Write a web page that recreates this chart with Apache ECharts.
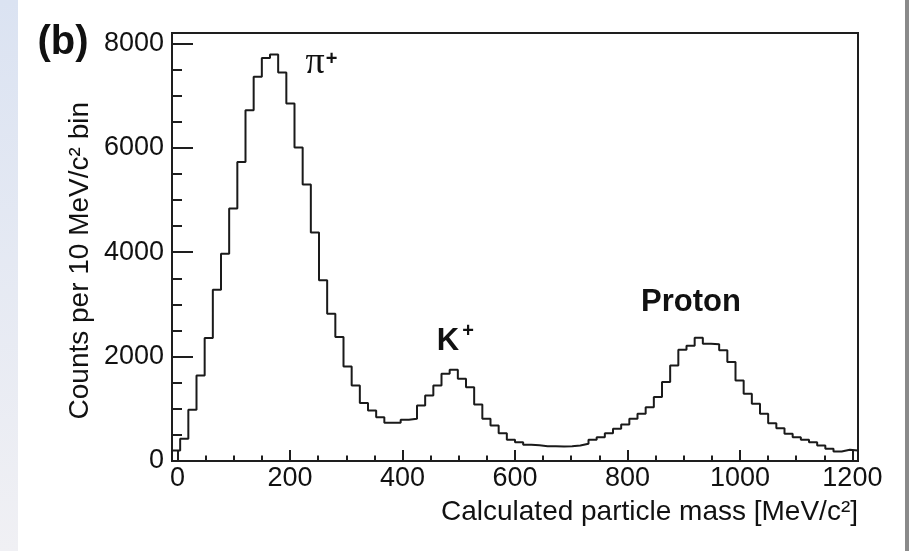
<!DOCTYPE html>
<html><head><meta charset="utf-8">
<script src="https://cdn.jsdelivr.net/npm/echarts@6/dist/echarts.min.js"></script>
<style>
html,body{margin:0;padding:0;background:#fff;}
#wrap{position:relative;width:909px;height:551px;overflow:hidden;background:#fff;}
#lstrip{position:absolute;left:0;top:0;width:18px;height:551px;background:linear-gradient(to bottom,#dbe3f2,#f0f0f4);}
#rstrip{position:absolute;right:0;top:0;width:4px;height:551px;background:#8a8a8a;}
#chart{position:absolute;left:0;top:0;width:909px;height:551px;}
</style></head>
<body><div id="wrap"><div id="lstrip"></div><div id="rstrip"></div><div id="chart"></div></div>
<script>
// Histogram: bins from binStart, width binWidth (MeV/c^2)
const binStart = -10;
const binWidth = 1220 / 84;
const counts = [
  200, 426, 982, 1640, 2355, 3283, 3973, 4836, 5730, 6721,
  7360, 7720, 7790, 7444, 6850, 6006, 5296, 4376, 3461, 2823,
  2374, 1810, 1448, 1110, 968, 840, 735, 735, 790, 809,
  1064, 1256, 1448, 1672, 1749, 1576, 1415, 1083, 809, 681,
  533, 407, 360, 311, 300, 284, 284, 280, 284, 297,
  330, 407, 457, 533, 617, 700, 809, 905, 1032, 1224,
  1512, 1832, 2133, 2210, 2363, 2248, 2235, 2120, 1896, 1544,
  1289, 1097, 905, 725, 629, 521, 457, 407, 361, 297,
  234, 182, 215, 200
];
const xMajorTicks = [0, 200, 400, 600, 800, 1000, 1200];
const xMinorTicks = [50, 100, 150, 250, 300, 350, 450, 500, 550, 650, 700, 750, 850, 900, 950, 1050, 1100, 1150];
const yMajorTicks = [0, 2000, 4000, 6000, 8000];
const yMinorTicks = [500, 1000, 1500, 2500, 3000, 3500, 4500, 5000, 5500, 6500, 7000, 7500];

const pts = [[binStart, 0]];
counts.forEach((c, i) => pts.push([binStart + i * binWidth, c]));
pts.push([binStart + counts.length * binWidth, counts[counts.length - 1]]);
pts.push([binStart + counts.length * binWidth, 0]);

const axisColor = '#1e1e1e';
const txt = '#111';
const ff = '"Liberation Sans", Arial, Helvetica, sans-serif';
const plain = v => String(v);

const chart = echarts.init(document.getElementById('chart'), null, {renderer: 'canvas'});
chart.setOption({
  animation: false,
  grid: {left: 172, right: 51, top: 33, bottom: 90, show: true, borderColor: axisColor, borderWidth: 2,
         backgroundColor: 'transparent', outerBoundsMode: 'none', containLabel: false},
  xAxis: [
    {type: 'value', min: -10, max: 1210, position: 'bottom',
     axisLine: {show: true, onZero: false, lineStyle: {color: axisColor, width: 2}},
     axisTick: {show: true, inside: true, length: 11, customValues: xMajorTicks, lineStyle: {color: axisColor, width: 2}},
     axisLabel: {show: true, customValues: xMajorTicks, formatter: plain, margin: 4, color: txt, fontSize: 27, fontFamily: ff},
     splitLine: {show: false}},
    {type: 'value', min: -10, max: 1210, position: 'bottom',
     axisLine: {show: false, onZero: false},
     axisTick: {show: true, inside: true, length: 5.5, customValues: xMinorTicks, lineStyle: {color: axisColor, width: 2}},
     axisLabel: {show: false},
     splitLine: {show: false}}
  ],
  yAxis: [
    {type: 'value', min: 0, max: 8200, position: 'left',
     axisLine: {show: true, onZero: false, lineStyle: {color: axisColor, width: 2}},
     axisTick: {show: true, inside: true, length: 21, customValues: yMajorTicks, lineStyle: {color: axisColor, width: 2}},
     axisLabel: {show: true, customValues: yMajorTicks, formatter: plain, margin: 8, color: txt, fontSize: 27, fontFamily: ff},
     splitLine: {show: false}},
    {type: 'value', min: 0, max: 8200, position: 'left',
     axisLine: {show: false, onZero: false},
     axisTick: {show: true, inside: true, length: 10, customValues: yMinorTicks, lineStyle: {color: axisColor, width: 2}},
     axisLabel: {show: false},
     splitLine: {show: false}}
  ],
  series: [{
    type: 'line', xAxisIndex: 0, yAxisIndex: 0, data: pts, step: 'end',
    showSymbol: false, symbol: 'none', z: 3,
    lineStyle: {color: '#1a1a1a', width: 2}
  }],
  graphic: [
    {type: 'text', x: 63, y: 43, style: {text: '(b)', font: 'bold 40px ' + ff, fill: txt,
      align: 'center', verticalAlign: 'middle', textAlign: 'center', textVerticalAlign: 'middle'}},
    {type: 'text', x: 80, y: 102, rotation: Math.PI / 2,
      style: {text: 'Counts per 10 MeV/c² bin', font: '28px ' + ff, fill: txt,
      align: 'right', verticalAlign: 'middle', textAlign: 'right', textVerticalAlign: 'middle'}},
    {type: 'text', x: 858, y: 512, style: {text: 'Calculated particle mass [MeV/c²]', font: '28px ' + ff, fill: txt,
      align: 'right', verticalAlign: 'middle', textAlign: 'right', textVerticalAlign: 'middle'}},
    {type: 'text', x: 691, y: 302, style: {text: 'Proton', font: 'bold 31px ' + ff, fill: txt,
      align: 'center', verticalAlign: 'middle', textAlign: 'center', textVerticalAlign: 'middle'}},
    {type: 'text', x: 448, y: 341, style: {text: 'K', font: 'bold 31px ' + ff, fill: txt,
      align: 'center', verticalAlign: 'middle', textAlign: 'center', textVerticalAlign: 'middle'}},
    {type: 'text', x: 468, y: 331, style: {text: '+', font: 'bold 20px ' + ff, fill: txt,
      align: 'center', verticalAlign: 'middle', textAlign: 'center', textVerticalAlign: 'middle'}},
    {type: 'text', x: 315, y: 63, style: {text: 'π', font: '38px "Liberation Serif", "DejaVu Serif", serif', fill: txt,
      align: 'center', verticalAlign: 'middle', textAlign: 'center', textVerticalAlign: 'middle'}},
    {type: 'text', x: 331.5, y: 59, style: {text: '+', font: 'bold 20px ' + ff, fill: txt,
      align: 'center', verticalAlign: 'middle', textAlign: 'center', textVerticalAlign: 'middle'}}
  ]
});
</script>
</body></html>
